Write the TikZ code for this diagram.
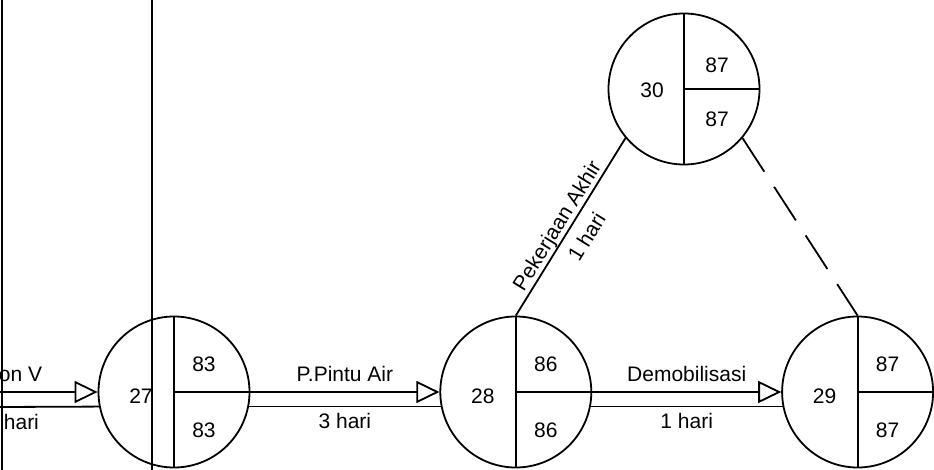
\documentclass[tikz,border=0pt]{standalone}
\usepackage{fontspec}
\setmainfont{Liberation Sans}
\usetikzlibrary{positioning,arrows.meta}

\begin{document}
\begin{tikzpicture}[
    x=1pt, y=-1pt,
    line width=1.8pt,
    node distance=189pt,
    font=\fontsize{21pt}{25pt}\selectfont,
    event/.style={circle, draw, minimum size=151pt, inner sep=0pt},
    num/.style={inner sep=0pt},
    act/.style={-{Triangle[open, length=23pt, width=22pt]}},
]
    \useasboundingbox (0,0) rectangle (934,470);

    \node[event] (e27) at (174,392) {};
    \node[event, right=of e27] (e28) {};
    \node[event, right=of e28] (e29) {};
    \node[event] (e30) at (684,89) {};

    % frame lines
    \coordinate (ltop) at (2,0);
    \coordinate (lbot) at (2,470);
    \coordinate (mtop) at (152,0);
    \coordinate (mbot) at (152,470);
    \draw (ltop) -- (lbot);
    \draw (mtop) -- (mbot);

    \foreach \n in {27,28,29,30} {
        \draw (e\n.north) -- (e\n.south);
        \draw (e\n.center) -- (e\n.east);
    }
    \foreach \n/\es/\lf in {27/83/83, 28/86/86, 29/87/87} {
        \node[num] (id\n) at ([xshift=-33pt, yshift=-4pt]e\n.center) {\n};
        \node[num] (es\n) at ([xshift=30pt, yshift=28pt]e\n.center) {\es};
        \node[num] (lf\n) at ([xshift=30pt, yshift=-38pt]e\n.center) {\lf};
    }
    \node[num] (id30) at ([xshift=-32pt, yshift=-1pt]e30.center) {30};
    \node[num] (es30) at ([xshift=33pt, yshift=23.5pt]e30.center) {87};
    \node[num] (lf30) at ([xshift=33pt, yshift=-30pt]e30.center) {87};

    % activities
    \coordinate (in27) at (0,392);
    \coordinate (in27b) at (0,407);
    \draw[act] (in27) -- (e27.west)
        node[at start, anchor=south west, inner ysep=9pt, inner xsep=0pt, xshift=-2pt] {on V};
    \draw (in27b) -- (e27.191)
        node[at start, anchor=north west, inner ysep=6pt, inner xsep=0pt, xshift=3pt] {hari};

    \draw[act] (e27.east) -- (e28.west) node[midway, above, inner sep=9pt] {P.Pintu Air};
    \draw (e27.-11) -- (e28.191) node[midway, below, inner sep=6pt] {3 hari};

    \draw[act] (e28.east) -- (e29.west) node[midway, above, inner sep=9pt] {Demobilisasi};
    \draw (e28.-11) -- (e29.191) node[midway, below, inner sep=6pt] {1 hari};

    \draw (e28.north) -- (e30.220)
        node[pos=0.47, sloped, above, inner sep=0pt] {Pekerjaan Akhir}
        node[pos=0.5, sloped, below=10pt, inner sep=0pt] {1 hari};

    % dummy
    \draw[dash pattern=on 40pt off 18pt] (e30.-40) -- (e29.north);
\end{tikzpicture}
\end{document}
